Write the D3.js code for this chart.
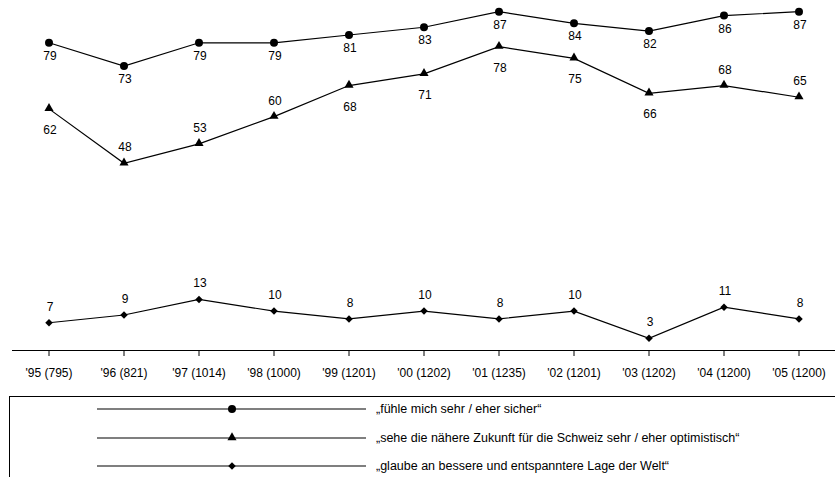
<!DOCTYPE html>
<html>
<head>
<meta charset="utf-8">
<script src="https://cdn.jsdelivr.net/npm/d3@7"></script>
<style>
  body { margin: 0; background: #fff; }
  svg { display: block; font-family: "Liberation Sans", Arial, sans-serif; }
</style>
</head>
<body>
<script>
// data
var categories = ["'95 (795)", "'96 (821)", "'97 (1014)", "'98 (1000)", "'99 (1201)", "'00 (1202)",
                  "'01 (1235)", "'02 (1201)", "'03 (1202)", "'04 (1200)", "'05 (1200)"];
var sicher = [79, 73, 79, 79, 81, 83, 87, 84, 82, 86, 87];
var optimistisch = [62, 48, 53, 60, 68, 71, 78, 75, 66, 68, 65];
var weltlage = [7, 9, 13, 10, 8, 10, 8, 10, 3, 11, 8];
var legendLabels = ["\u201Ef\u00FChle mich sehr / eher sicher\u201C",
                    "\u201Esehe die n\u00E4here Zukunft f\u00FCr die Schweiz sehr / eher optimistisch\u201C",
                    "\u201Eglaube an bessere und entspanntere Lage der Welt\u201C"];
// where the value label sits relative to the point
var optimistischLabelPos = ["below", "above", "above", "above", "below", "below",
                            "below", "below", "below", "above", "above"];

var width = 835, height = 477;

var svg = d3.select("body").append("svg")
    .attr("width", width)
    .attr("height", height);

var x = d3.scaleBand()
    .domain(categories)
    .range([11.5, 836.5])
    .padding(0);
var y = d3.scaleLinear()
    .domain([0, 90])
    .range([350, 0]);

function cx(i) { return x(categories[i]) + x.bandwidth() / 2; }

// x axis
var axis = svg.append("g")
    .attr("transform", "translate(0,350)")
    .call(d3.axisBottom(x).tickSizeInner(6).tickSizeOuter(0).tickPadding(12));
axis.select(".domain").attr("stroke", "#000").attr("stroke-width", 1.2);
axis.selectAll(".tick line").attr("stroke", "#000");
axis.selectAll(".tick text")
    .attr("font-size", 12)
    .attr("font-family", "Liberation Sans, Arial, sans-serif")
    .attr("fill", "#000");

var line = d3.line()
    .x(function(d, i) { return cx(i); })
    .y(function(d) { return y(d); });

var series = [
    {values: sicher, symbol: "circle", pos: sicher.map(function() { return "below"; }), below: 17, above: -12},
    {values: optimistisch, symbol: "triangle", pos: optimistischLabelPos, below: 25, above: -12},
    {values: weltlage, symbol: "diamond", pos: weltlage.map(function() { return "above"; }), below: 25, above: -12}
];

function drawMarker(g, type, px, py) {
    if (type === "circle") {
        g.append("circle").attr("cx", px).attr("cy", py).attr("r", 4).attr("fill", "#000");
    } else if (type === "triangle") {
        g.append("path")
            .attr("d", d3.symbol().type(d3.symbolTriangle).size(36)())
            .attr("transform", "translate(" + px + "," + (py - 0.5) + ")")
            .attr("fill", "#000");
    } else {
        g.append("path")
            .attr("d", d3.symbol().type(d3.symbolSquare).size(28)())
            .attr("transform", "translate(" + px + "," + py + ") rotate(45)")
            .attr("fill", "#000");
    }
}

series.forEach(function(s) {
    var g = svg.append("g");
    g.append("path")
        .datum(s.values)
        .attr("fill", "none")
        .attr("stroke", "#000")
        .attr("stroke-width", 1.2)
        .attr("d", line);
    s.values.forEach(function(v, i) {
        drawMarker(g, s.symbol, cx(i), y(v));
        g.append("text")
            .attr("x", cx(i) + 1)
            .attr("y", y(v) + (s.pos[i] === "below" ? s.below : s.above))
            .attr("text-anchor", "middle")
            .attr("font-size", 12)
            .text(v);
    });
});

// legend
var legend = svg.append("g");
legend.append("rect")
    .attr("x", 9.5)
    .attr("y", 396.5)
    .attr("width", 900)
    .attr("height", 200)
    .attr("fill", "none")
    .attr("stroke", "#000")
    .attr("stroke-width", 1);

var legendTypes = ["circle", "triangle", "diamond"];
var legendY = [409, 438, 466];
legendTypes.forEach(function(t, i) {
    legend.append("line")
        .attr("x1", 97).attr("x2", 366)
        .attr("y1", legendY[i]).attr("y2", legendY[i])
        .attr("stroke", "#000").attr("stroke-width", 1.2);
    drawMarker(legend, t, 232, legendY[i]);
    legend.append("text")
        .attr("x", 376)
        .attr("y", legendY[i] + 4)
        .attr("font-size", 12.5)
        .text(legendLabels[i]);
});
</script>
</body>
</html>
